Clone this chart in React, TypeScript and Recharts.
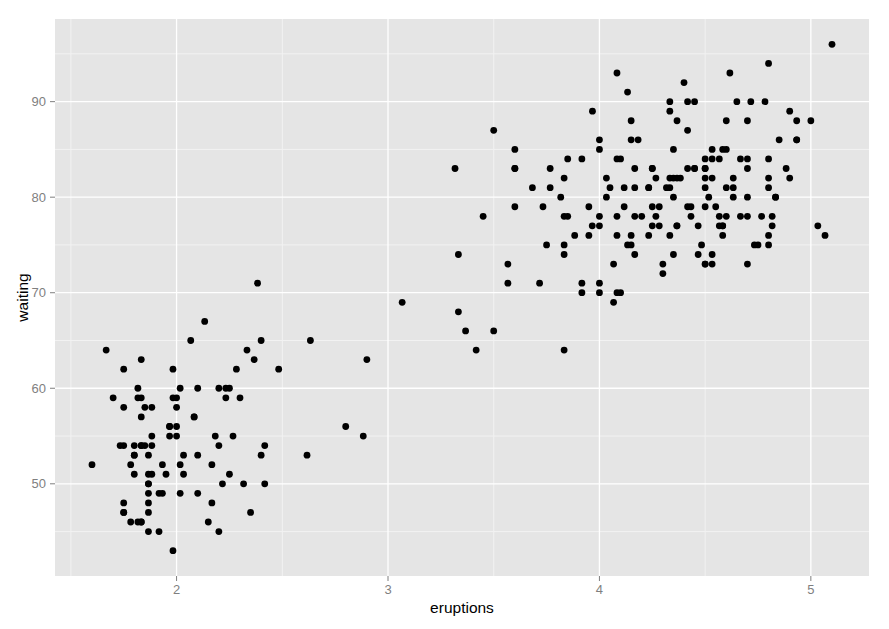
import { ScatterChart, Scatter, XAxis, YAxis, CartesianGrid, Label } from "recharts";

// Old Faithful eruptions (min) and waiting time (min)
const eruptions = [
  3.6, 1.8, 3.333, 2.283, 4.533, 2.883, 4.7, 3.6, 1.95, 4.35,
  1.833, 3.917, 4.2, 1.75, 4.7, 2.167, 1.75, 4.8, 1.6, 4.25,
  1.8, 1.75, 3.45, 3.067, 4.533, 3.6, 1.967, 4.083, 3.85, 4.433,
  4.3, 4.467, 3.367, 4.033, 3.833, 2.017, 1.867, 4.833, 1.833, 4.783,
  4.35, 1.883, 4.567, 1.75, 4.533, 3.317, 3.833, 2.1, 4.633, 2.0,
  4.8, 4.716, 1.833, 4.833, 1.733, 4.883, 3.717, 1.667, 4.567, 4.317,
  2.233, 4.5, 1.75, 4.8, 1.817, 4.4, 4.167, 4.7, 2.067, 4.7,
  4.033, 1.967, 4.5, 4.0, 1.983, 5.067, 2.017, 4.567, 3.883, 3.6,
  4.133, 4.333, 4.1, 2.633, 4.067, 4.933, 3.95, 4.517, 2.167, 4.0,
  2.2, 4.333, 1.867, 4.817, 1.833, 4.3, 4.667, 3.75, 1.867, 4.9,
  2.483, 4.367, 2.1, 4.5, 4.05, 1.867, 4.7, 1.783, 4.85, 3.683,
  4.733, 2.3, 4.9, 4.417, 1.7, 4.633, 2.317, 4.6, 1.817, 4.417,
  2.617, 4.067, 4.25, 1.967, 4.6, 3.767, 1.917, 4.5, 2.267, 4.65,
  1.867, 4.167, 2.8, 4.333, 1.833, 4.383, 1.883, 4.933, 2.033, 3.733,
  4.233, 2.233, 4.533, 4.817, 4.333, 1.983, 4.633, 2.017, 5.1, 1.8,
  5.033, 4.0, 2.4, 4.6, 3.567, 4.0, 4.5, 4.083, 1.8, 3.967,
  2.2, 4.15, 2.0, 3.833, 3.5, 4.583, 2.367, 5.0, 1.933, 4.617,
  1.917, 2.083, 4.583, 3.333, 4.167, 4.333, 4.5, 2.417, 4.0, 4.167,
  1.883, 4.583, 4.25, 3.767, 2.033, 4.433, 4.083, 1.833, 4.417, 2.183,
  4.8, 1.833, 4.8, 4.1, 3.966, 4.233, 3.5, 4.366, 2.25, 4.667,
  2.1, 4.35, 4.133, 1.867, 4.6, 1.783, 4.367, 3.85, 1.933, 4.5,
  2.383, 4.7, 1.867, 3.833, 3.417, 4.233, 2.4, 4.8, 2.0, 4.15,
  1.867, 4.267, 1.75, 4.483, 4.0, 4.117, 4.083, 4.267, 3.917, 4.55,
  4.083, 2.417, 4.183, 2.217, 4.45, 1.883, 1.85, 4.283, 3.95, 2.333,
  4.15, 2.35, 4.933, 2.9, 4.583, 3.833, 2.083, 4.367, 2.133, 4.35,
  2.2, 4.45, 3.567, 4.5, 4.15, 3.817, 3.917, 4.45, 2.0, 4.283,
  4.767, 4.533, 1.85, 4.25, 1.983, 2.25, 4.75, 4.117, 2.15, 4.417,
  1.817, 4.467,
];

const waiting = [
  79, 54, 74, 62, 85, 55, 88, 85, 51, 85,
  54, 84, 78, 47, 83, 52, 62, 84, 52, 79,
  51, 47, 78, 69, 74, 83, 55, 76, 78, 79,
  73, 77, 66, 80, 74, 52, 48, 80, 59, 90,
  80, 58, 84, 58, 73, 83, 64, 53, 82, 59,
  75, 90, 54, 80, 54, 83, 71, 64, 77, 81,
  59, 84, 48, 82, 60, 92, 78, 78, 65, 73,
  82, 56, 79, 71, 62, 76, 60, 78, 76, 83,
  75, 82, 70, 65, 73, 88, 76, 80, 48, 86,
  60, 90, 50, 78, 63, 72, 84, 75, 51, 82,
  62, 88, 49, 83, 81, 47, 84, 52, 86, 81,
  75, 59, 89, 79, 59, 81, 50, 85, 59, 87,
  53, 69, 77, 56, 88, 81, 45, 82, 55, 90,
  45, 83, 56, 89, 46, 82, 51, 86, 53, 79,
  81, 60, 82, 77, 76, 59, 80, 49, 96, 53,
  77, 77, 65, 81, 71, 70, 81, 93, 53, 89,
  45, 86, 58, 78, 66, 76, 63, 88, 52, 93,
  49, 57, 77, 68, 81, 81, 73, 50, 85, 74,
  55, 77, 83, 83, 51, 78, 84, 46, 83, 55,
  81, 57, 76, 84, 77, 81, 87, 77, 51, 78,
  60, 82, 91, 53, 78, 46, 77, 84, 49, 83,
  71, 80, 49, 75, 64, 76, 53, 94, 55, 76,
  50, 82, 54, 75, 78, 79, 78, 78, 70, 79,
  70, 54, 86, 50, 90, 54, 54, 77, 79, 64,
  75, 47, 86, 63, 85, 82, 57, 82, 67, 74,
  54, 83, 73, 73, 88, 80, 71, 83, 56, 79,
  78, 84, 58, 83, 43, 60, 75, 81, 46, 90,
  46, 74,
];

const xTicks = [2, 3, 4, 5];
const yTicks = [50, 60, 70, 80, 90];
const xMinor = [1.5, 2.5, 3.5, 4.5];
const yMinor = [45, 55, 65, 75, 85, 95];

const points = eruptions.map((e, i) => ({ eruptions: e, waiting: waiting[i] }));

// ggplot style 5% expansion of the data range
const expand = (vals: number[]): [number, number] => {
  const lo = Math.min(...vals);
  const hi = Math.max(...vals);
  const pad = (hi - lo) * 0.05;
  return [lo - pad, hi + pad];
};

const FONT = "'Liberation Sans', Arial, sans-serif";
const tickStyle = { fill: "#7F7F7F", fontSize: 13, fontFamily: FONT };

export default function App() {
  return (
    <div style={{ position: "absolute", left: 0, top: 0, background: "#fff" }}>
      <ScatterChart
        width={889}
        height={629}
        margin={{ top: 19, right: 20, left: 0, bottom: 0 }}
      >
        {/* minor grid + panel background */}
        <CartesianGrid
          fill="#E5E5E5"
          stroke="#F2F2F2"
          strokeWidth={1}
          verticalValues={xMinor}
          horizontalValues={yMinor}
        />
        {/* major grid */}
        <CartesianGrid
          fill="none"
          stroke="#FFFFFF"
          strokeWidth={1.3}
          verticalValues={xTicks}
          horizontalValues={yTicks}
        />
        <XAxis
          type="number"
          dataKey="eruptions"
          domain={expand(eruptions)}
          ticks={xTicks}
          allowDataOverflow
          height={53}
          axisLine={false}
          tickLine={{ stroke: "#7F7F7F" }}
          tickSize={5}
          tickMargin={4}
          tick={tickStyle}
        >
          <Label
            content={({ viewBox }: any) => (
              <text
                x={viewBox.x + viewBox.width / 2}
                y={613}
                textAnchor="middle"
                fill="#000"
                fontSize={15.5}
                fontFamily={FONT}
              >
                eruptions
              </text>
            )}
          />
        </XAxis>
        <YAxis
          type="number"
          dataKey="waiting"
          domain={expand(waiting)}
          ticks={yTicks}
          allowDataOverflow
          width={55}
          axisLine={false}
          tickLine={{ stroke: "#7F7F7F" }}
          tickSize={5}
          tickMargin={4}
          tick={tickStyle}
        >
          <Label
            content={({ viewBox }: any) => {
              const cy = viewBox.y + viewBox.height / 2;
              return (
                <text
                  transform={`translate(23,${cy}) rotate(-90)`}
                  textAnchor="middle"
                  dy="0.35em"
                  fill="#000"
                  fontSize={15.5}
                  fontFamily={FONT}
                >
                  waiting
                </text>
              );
            }}
          />
        </YAxis>
        <Scatter
          data={points}
          isAnimationActive={false}
          shape={(p: any) => <circle cx={p.cx} cy={p.cy} r={3.4} fill="#000" />}
        />
      </ScatterChart>
    </div>
  );
}
